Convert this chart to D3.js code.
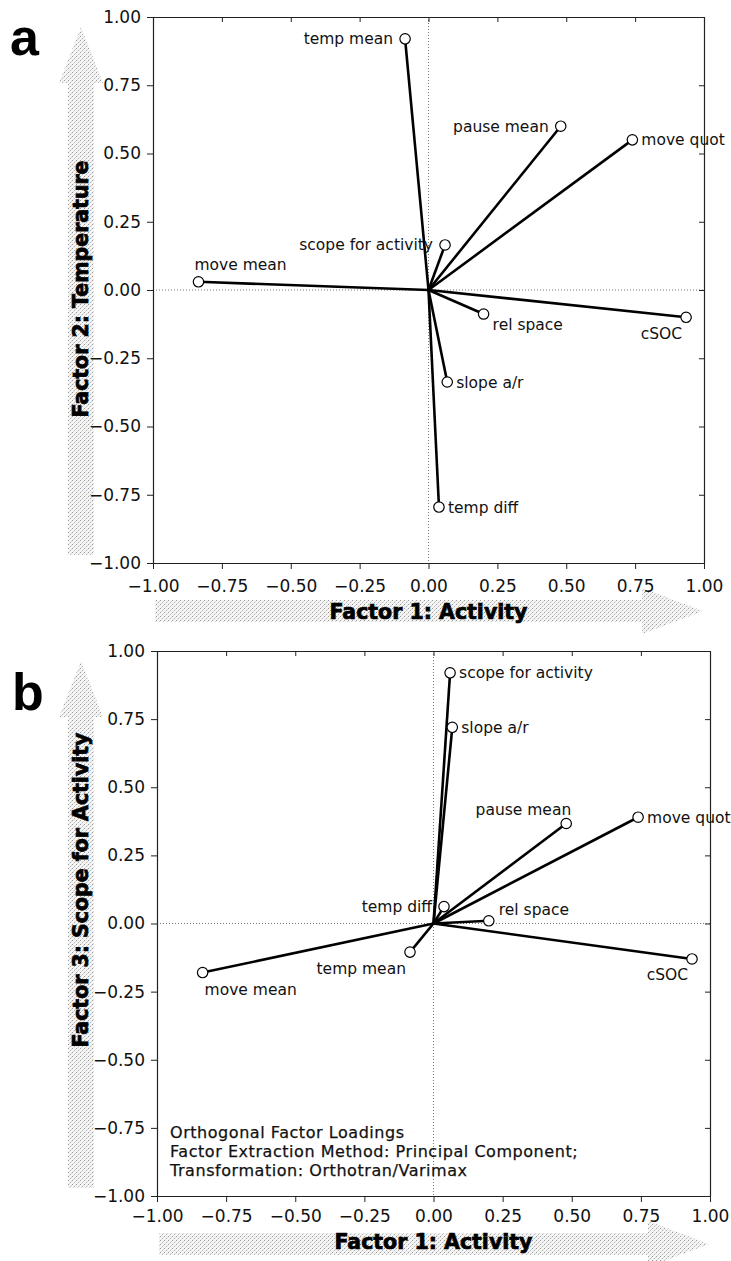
<!DOCTYPE html>
<html>
<head>
<meta charset="utf-8">
<script src="https://cdn.jsdelivr.net/npm/d3@7/dist/d3.min.js"></script>
<style>
  html, body { margin: 0; padding: 0; background: #fff; }
  svg { display: block; }
  .tick text { font-family: "DejaVu Sans", sans-serif; font-size: 17px; fill: #111; }
  .var-label { font-family: "DejaVu Sans", sans-serif; font-size: 15.5px; fill: #111; }
  .axis-title { font-family: "DejaVu Sans", sans-serif; font-weight: bold; font-size: 20.5px;
                fill: #000; stroke: #000; stroke-width: 0.7px; paint-order: stroke; }
  .panel-letter { font-family: "Liberation Sans", Arial, sans-serif; font-weight: bold; font-size: 52px; fill: #000; }
  .note { font-family: "DejaVu Sans", sans-serif; font-size: 16px; letter-spacing: 0.55px;
          fill: #111; stroke: #111; stroke-width: 0.25px; }
</style>
</head>
<body>
<svg id="chart" width="731" height="1261"></svg>
<script>
// Rotated factor loadings (principal components, varimax)
const variables = ["temp mean", "pause mean", "move quot", "scope for activity",
                   "move mean", "rel space", "cSOC", "slope a/r", "temp diff"];
const factor1Activity    = [-0.085, 0.48, 0.74, 0.06, -0.835, 0.20, 0.935, 0.068, 0.038];
const factor2Temperature = [ 0.92,  0.60, 0.55, 0.165, 0.03, -0.088, -0.10, -0.337, -0.795];
const factor3Scope       = [-0.105, 0.367, 0.39, 0.92, -0.18, 0.01, -0.13, 0.72, 0.062];

const tickValues = [-1, -0.75, -0.5, -0.25, 0, 0.25, 0.5, 0.75, 1];
const noteLines = ["Orthogonal Factor Loadings",
                   "Factor Extraction Method: Principal Component;",
                   "Transformation: Orthotran/Varimax"];

// Label placement around each marker: [dx, dy, text-anchor]
const placements = {
  left:        [-12,  5.5, "end"],
  right:       [  9,  5.5, "start"],
  above:       [ -4, -11.5, "start"],
  below:       [  2,  22.5, "start"],
  belowLeft:   [ -4,  21.5, "end"],
  aboveLeft:   [  5,  -8.5, "end"],
  rightBelow:  [  9,  15.5, "start"],
  rightAbove:  [ 10,  -5.5, "start"]
};
const placeA = ["left", "left", "right", "left", "above", "rightBelow", "belowLeft", "right", "right"];
const placeB = ["belowLeft", "aboveLeft", "right", "right", "below", "rightAbove", "belowLeft", "right", "left"];

const svg = d3.select("#chart");
const fmt = d3.format(".2f");

// Light stippled fill for the direction arrows
const defs = svg.append("defs");
const pat = defs.append("pattern").attr("id", "stipple")
  .attr("patternUnits", "userSpaceOnUse").attr("width", 4).attr("height", 4);
pat.append("rect").attr("width", 4).attr("height", 4).attr("fill", "#f5f5f5");
[[0, 0, "#9a9a9a"], [2, 2, "#b4b4b4"], [3, 1, "#d6d6d6"], [1, 3, "#dcdcdc"]]
  .forEach(([x, y, c]) => pat.append("rect").attr("x", x).attr("y", y)
    .attr("width", 1).attr("height", 1).attr("fill", c));

function drawPanel(cfg) {
  const x = d3.scaleLinear().domain([-1, 1]).range(cfg.xRange);
  const y = d3.scaleLinear().domain([-1, 1]).range(cfg.yRange);
  const [x0, x1] = cfg.xRange;
  const [yb, yt] = cfg.yRange;
  const g = svg.append("g");

  // Direction arrows behind the axes
  const ax = cfg.yArrowX;
  g.append("path").attr("fill", "url(#stipple)")
    .attr("d", d3.line()([
      [ax, yt + 10], [ax + 22, yt + 66], [ax + 13, yt + 66], [ax + 13, yb - 8],
      [ax - 13, yb - 8], [ax - 13, yt + 66], [ax - 22, yt + 66]]) + "Z");
  const ay = cfg.xArrowY;
  g.append("path").attr("fill", "url(#stipple)")
    .attr("d", d3.line()([
      [x0 + 2, ay - 11], [x1 - 62, ay - 11], [x1 - 62, ay - 23], [x1 - 1, ay],
      [x1 - 62, ay + 23], [x1 - 62, ay + 11], [x0 + 2, ay + 11]]) + "Z");

  // Zero reference lines
  g.append("line").attr("x1", x(0)).attr("x2", x(0)).attr("y1", yt).attr("y2", yb)
    .attr("stroke", "#777").attr("stroke-width", 1).attr("stroke-dasharray", "1,2");
  g.append("line").attr("x1", x0).attr("x2", x1).attr("y1", y(0)).attr("y2", y(0))
    .attr("stroke", "#777").attr("stroke-width", 1).attr("stroke-dasharray", "1,2");

  // Axes on all four sides
  const axisStyle = sel => { sel.selectAll(".domain").attr("stroke", "#222");
                             sel.selectAll(".tick line").attr("stroke", "#222"); };
  g.append("g").attr("transform", `translate(0,${yb})`)
    .call(d3.axisBottom(x).tickValues(tickValues).tickFormat(fmt).tickSize(6).tickSizeOuter(0).tickPadding(cfg.xTickPad))
    .call(axisStyle);
  g.append("g").attr("transform", `translate(${x0},0)`)
    .call(d3.axisLeft(y).tickValues(tickValues).tickFormat(fmt).tickSize(6).tickSizeOuter(0).tickPadding(6))
    .call(axisStyle);
  g.append("g").attr("transform", `translate(0,${yt})`)
    .call(d3.axisTop(x).tickValues(tickValues).tickFormat("").tickSize(-5).tickSizeOuter(0))
    .call(axisStyle);
  g.append("g").attr("transform", `translate(${x1},0)`)
    .call(d3.axisRight(y).tickValues(tickValues).tickFormat("").tickSize(-5).tickSizeOuter(0))
    .call(axisStyle);
  g.selectAll(".domain").attr("stroke-width", 1.2);

  // Loading vectors from the origin
  const pts = variables.map((name, i) => ({ name, vx: factor1Activity[i], vy: cfg.yValues[i], place: cfg.place[i] }));
  g.selectAll("line.vec").data(pts).join("line").attr("class", "vec")
    .attr("x1", x(0)).attr("y1", y(0))
    .attr("x2", d => x(d.vx)).attr("y2", d => y(d.vy))
    .attr("stroke", "#000").attr("stroke-width", 2.6);
  g.selectAll("circle.pt").data(pts).join("circle").attr("class", "pt")
    .attr("cx", d => x(d.vx)).attr("cy", d => y(d.vy)).attr("r", 5.2)
    .attr("fill", "#fff").attr("stroke", "#000").attr("stroke-width", 1.2);
  g.selectAll("text.var-label").data(pts).join("text").attr("class", "var-label")
    .attr("x", d => x(d.vx) + placements[d.place][0])
    .attr("y", d => y(d.vy) + placements[d.place][1])
    .attr("text-anchor", d => placements[d.place][2])
    .text(d => d.name);

  // Axis titles and panel letter
  g.append("text").attr("class", "axis-title").attr("text-anchor", "middle")
    .attr("x", x(0)).attr("y", cfg.xTitleY).text(cfg.xTitle);
  g.append("text").attr("class", "axis-title").attr("text-anchor", "middle")
    .attr("transform", `translate(${ax + 7},${cfg.yTitleCenter}) rotate(-90)`).text(cfg.yTitle);
  g.append("text").attr("class", "panel-letter").attr("x", cfg.letterPos[0]).attr("y", cfg.letterPos[1])
    .text(cfg.letter);

  // Method note, three lines
  if (cfg.note) {
    g.append("g").selectAll("text").data(cfg.note).join("text").attr("class", "note")
      .attr("x", x0 + 13).attr("y", (d, i) => yb - 39 + (i - 1) * 18.8).text(d => d);
  }
}

drawPanel({
  letter: "a", letterPos: [10, 55],
  xRange: [153, 704], yRange: [563, 17],
  yValues: factor2Temperature, place: placeA,
  xTitle: "Factor 1: Activity", yTitle: "Factor 2: Temperature",
  xArrowY: 611, xTitleY: 619, xTickPad: 11, yArrowX: 81, yTitleCenter: 289
});
drawPanel({
  letter: "b", letterPos: [12, 710],
  xRange: [157, 710], yRange: [1196, 651],
  yValues: factor3Scope, place: placeB,
  xTitle: "Factor 1: Activity", yTitle: "Factor 3: Scope for Activity",
  xArrowY: 1244, xTitleY: 1249, xTickPad: 8, yArrowX: 81, yTitleCenter: 890,
  note: noteLines
});
</script>
</body>
</html>
